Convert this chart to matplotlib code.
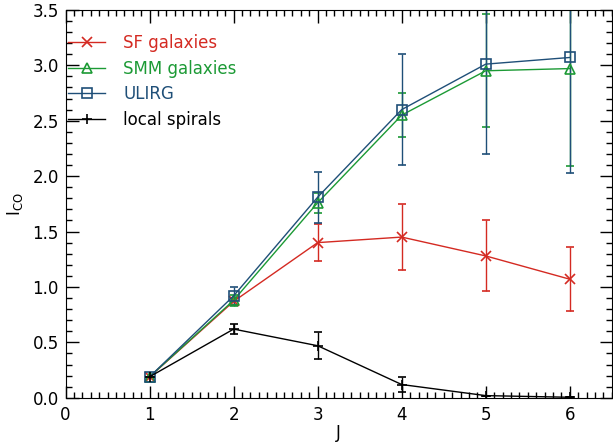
import matplotlib
matplotlib.use('Agg')
import matplotlib.pyplot as plt
from matplotlib.lines import Line2D
from matplotlib.ticker import MultipleLocator

# Data.
J = [1, 2, 3, 4, 5, 6]

sf_vals = [0.19, 0.87, 1.40, 1.45, 1.28, 1.07]
sf_errs = [0.0, 0.03, 0.17, 0.30, 0.32, 0.29]

smm_vals = [0.19, 0.88, 1.76, 2.55, 2.95, 2.97]
smm_errs = [0.0, 0.05, 0.09, 0.20, 0.51, 0.88]

ulirg_vals = [0.19, 0.92, 1.81, 2.60, 3.01, 3.07]
ulirg_errs = [0.0, 0.08, 0.23, 0.50, 0.81, 1.04]

local_vals = [0.19, 0.62, 0.47, 0.12, 0.02, 0.005]
local_errs = [0.0, 0.045, 0.12, 0.065, 0.0, 0.0]

labels = ['SF galaxies', 'SMM galaxies', 'ULIRG', 'local spirals']
colors = ['#d42a22', '#1c9a35', '#1f4f78', '#000000']
markers = ['x', '^', 's', '+']

plt.rc('font', family='DejaVu Sans', size=12)

fig = plt.figure(figsize=(6.13, 4.46), dpi=100)
ax = fig.add_axes([0.107, 0.108, 0.891, 0.870])

series = [(sf_vals, sf_errs), (smm_vals, smm_errs),
          (ulirg_vals, ulirg_errs), (local_vals, local_errs)]

# Plot each series with error bars (open markers).
for (vals, errs), col, mk in zip(series, colors, markers):
    ax.errorbar(J, vals, yerr=errs, color=col, marker=mk, ms=7,
                mfc='none', mec=col, mew=1.2, lw=1.0, elinewidth=1.0,
                capsize=3, capthick=1.0)

ax.set_xlim(0, 6.5)
ax.set_ylim(0, 3.5)
ax.xaxis.set_major_locator(MultipleLocator(1))
ax.xaxis.set_minor_locator(MultipleLocator(0.1))
ax.yaxis.set_major_locator(MultipleLocator(0.5))
ax.yaxis.set_minor_locator(MultipleLocator(0.1))
ax.yaxis.set_major_formatter(matplotlib.ticker.FormatStrFormatter('%.1f'))
ax.tick_params(which='both', direction='in', top=True, right=True)
ax.tick_params(which='major', length=9, width=1)
ax.tick_params(which='minor', length=4, width=1)
ax.tick_params(axis='x', pad=6)
ax.tick_params(axis='y', pad=5)

ax.set_xlabel('J', labelpad=0)
ax.set_ylabel(r'I$_{\rm CO}$', labelpad=5)

# Legend with line + marker only.
handles = [Line2D([], [], color=c, marker=m, ms=7, mfc='none', mec=c,
                  mew=1.2, lw=1.0) for c, m in zip(colors, markers)]
leg = ax.legend(handles, labels, loc='upper left', frameon=False,
                bbox_to_anchor=(0.005, 0.937), borderaxespad=0, borderpad=0,
                handlelength=2.2, handletextpad=1.1, labelspacing=0.45,
                fontsize=12)
for txt, c in zip(leg.get_texts(), colors):
    txt.set_color(c)

fig.savefig('out.png', dpi=100)
